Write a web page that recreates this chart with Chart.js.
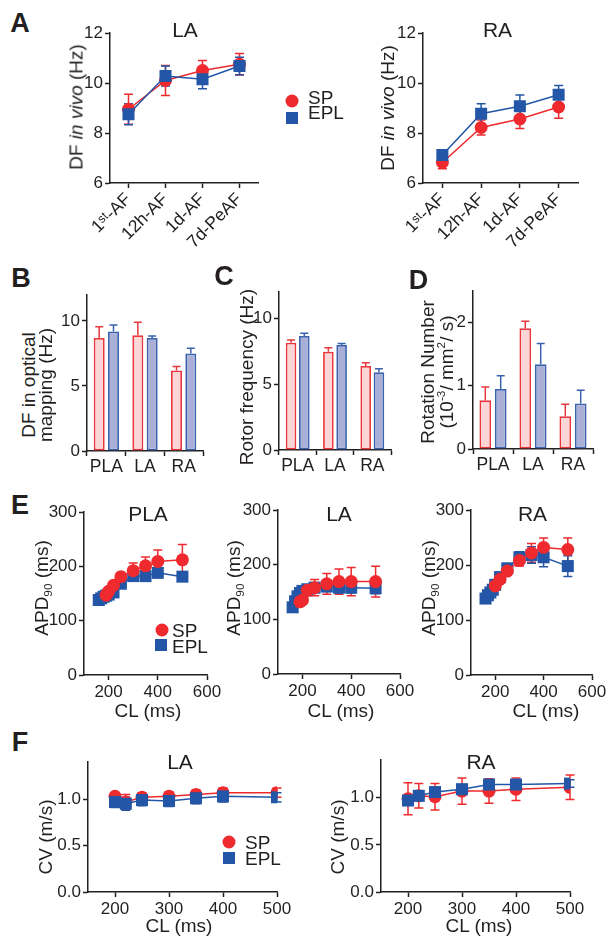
<!DOCTYPE html>
<html><head><meta charset="utf-8">
<script src="https://cdn.jsdelivr.net/npm/chart.js@4.4.0/dist/chart.umd.min.js"></script>
<style>
body{margin:0;width:613px;height:944px;position:relative;background:#fff;font-family:"Liberation Sans",Arial,sans-serif;color:#231f20;overflow:hidden}
canvas{position:absolute}
.t{position:absolute;white-space:nowrap;transform:translate(-50%,-50%);line-height:1}
.v{position:absolute;white-space:nowrap;transform:translate(-50%,-50%) rotate(-90deg);line-height:1;font-size:19px}
.ti{font-size:21px}
.xt{font-size:19px}
.lt{font-weight:bold;font-size:27px}
.lg{position:absolute;white-space:nowrap;transform:translate(0,-50%);line-height:1;font-size:19px}
.mc{position:absolute;width:13px;height:13px;border-radius:50%;background:#ee2a2e;transform:translate(-50%,-50%)}
.ms{position:absolute;width:12px;height:12px;background:#2356a6;transform:translate(-50%,-50%)}
sup{font-size:0.62em;vertical-align:super;line-height:0}
sub{font-size:0.62em;vertical-align:sub;line-height:0}
</style>
</head><body>
<script>
// ---------- DATA ----------
const stagesA = ['1\u02E2\u1D57-AF', '12h-AF', '1d-AF', '7d-PeAF'];
const dfLA_SP = [8.95, 10.1, 10.5, 10.75];
const dfLA_SP_err = [0.6, 0.6, 0.4, 0.43];
const dfLA_EPL = [8.75, 10.28, 10.15, 10.68];
const dfLA_EPL_err = [0.42, 0.4, 0.38, 0.35];
const dfRA_SP = [6.82, 8.22, 8.56, 9.04];
const dfRA_SP_err = [0.25, 0.3, 0.38, 0.45];
const dfRA_EPL = [7.12, 8.77, 9.07, 9.53];
const dfRA_EPL_err = [0.2, 0.4, 0.45, 0.37];

const regions = ['PLA', 'LA', 'RA'];
const dfOpt_SP = [8.7, 8.9, 6.2];
const dfOpt_SP_err = [0.85, 1.0, 0.3];
const dfOpt_EPL = [9.2, 8.7, 7.5];
const dfOpt_EPL_err = [0.5, 0.15, 0.4];
const rotor_SP = [8.15, 7.47, 6.38];
const rotor_SP_err = [0.2, 0.3, 0.25];
const rotor_EPL = [8.66, 7.97, 5.9];
const rotor_EPL_err = [0.2, 0.12, 0.28];
const rotN_SP = [0.77, 1.91, 0.52];
const rotN_SP_err = [0.21, 0.11, 0.19];
const rotN_EPL = [0.95, 1.34, 0.72];
const rotN_EPL_err = [0.21, 0.33, 0.21];

const apdPLA_SP_CL = [190, 200, 220, 250, 300, 350, 400, 500];
const apdPLA_SP = [147, 154, 165, 181, 192, 201, 209, 212];
const apdPLA_SP_err = [5, 5, 6, 6, 14, 16, 21, 28];
const apdPLA_EPL_CL = [160, 170, 180, 190, 200, 220, 250, 300, 350, 400, 500];
const apdPLA_EPL = [138, 141, 144, 146, 148, 152, 168, 182, 182, 188, 181];
const apdPLA_EPL_err = [4, 4, 4, 4, 4, 5, 5, 6, 6, 8, 5];

const apdLA_SP_CL = [190, 200, 220, 250, 300, 350, 400, 500];
const apdLA_SP = [132, 135, 153, 158, 165, 169, 169, 169];
const apdLA_SP_err = [5, 6, 10, 15, 19, 23, 26, 28];
const apdLA_EPL_CL = [160, 170, 180, 190, 200, 220, 250, 300, 350, 400, 500];
const apdLA_EPL = [122, 133, 142, 148, 152, 155, 158, 160, 158, 158, 157];
const apdLA_EPL_err = [5, 5, 5, 5, 6, 7, 8, 9, 10, 10, 10];

const apdRA_SP_CL = [200, 220, 250, 300, 350, 400, 500];
const apdRA_SP = [162, 174, 189, 208, 222, 232, 228];
const apdRA_SP_err = [5, 5, 6, 10, 17, 17, 21];
const apdRA_EPL_CL = [160, 170, 180, 190, 200, 220, 250, 300, 350, 400, 500];
const apdRA_EPL = [139, 145, 150, 155, 164, 178, 194, 214, 218, 214, 198];
const apdRA_EPL_err = [4, 4, 4, 4, 5, 6, 6, 10, 15, 17, 19];

const cvCL = [200, 220, 250, 300, 350, 400, 500];
const cvLA_SP = [1.03, 0.97, 1.02, 1.03, 1.05, 1.07, 1.07];
const cvLA_SP_err = [0.03, 0.08, 0.05, 0.05, 0.05, 0.05, 0.05];
const cvLA_EPL = [0.97, 0.95, 0.99, 0.98, 1.01, 1.03, 1.02];
const cvLA_EPL_err = [0.06, 0.07, 0.06, 0.06, 0.06, 0.06, 0.05];
const cvRA_SP = [0.99, 1.02, 1.01, 1.07, 1.07, 1.09, 1.11];
const cvRA_SP_err = [0.17, 0.13, 0.14, 0.14, 0.13, 0.12, 0.13];
const cvRA_EPL = [0.97, 1.02, 1.06, 1.09, 1.14, 1.14, 1.15];
const cvRA_EPL_err = [0.04, 0.04, 0.04, 0.05, 0.04, 0.05, 0.04];

const ticksA = [6, 8, 10, 12];
const ticksBC = [0, 5, 10];
const ticksD = [0, 1, 2];
const ticksAPD = [0, 100, 200, 300];
const ticksCLE = [200, 400, 600];
const ticksCV = [0, 0.5, 1.0];
const ticksCLF = [200, 300, 400, 500];

// ---------- STYLE ----------
const FONT = '"Liberation Sans", Arial, sans-serif';
const AX = '#231f20';
const RED = '#ee2a2e', BLUE = '#2356a6';
const RED_BAR = '#e8383d', RED_FILL = '#fcd6d6';
const BLUE_BAR = '#3a62ad', BLUE_FILL = '#a9afd7';
const TICK = 17;
Chart.defaults.font.family = FONT;
Chart.defaults.color = AX;

const errPlugin = {
  id: 'errbars',
  beforeDatasetsDraw(chart) {
    const ctx = chart.ctx, ys = chart.scales.y;
    chart.data.datasets.forEach((ds, i) => {
      if (!ds.err) return;
      const meta = chart.getDatasetMeta(i);
      meta.data.forEach((el, j) => {
        const e = ds.err[j]; if (e == null) return;
        const d = ds.data[j];
        const v = (typeof d === 'object') ? d.y : d;
        const x = el.x;
        const yT = ys.getPixelForValue(v + e);
        const yB = ys.getPixelForValue(ds.upOnly ? v : v - e);
        const cw = ds.capW || 4.5;
        ctx.save();
        ctx.strokeStyle = ds.errColor; ctx.lineWidth = 1.5;
        ctx.beginPath();
        ctx.moveTo(x, yT); ctx.lineTo(x, yB);
        ctx.moveTo(x - cw, yT); ctx.lineTo(x + cw, yT);
        if (!ds.upOnly) { ctx.moveTo(x - cw, yB); ctx.lineTo(x + cw, yB); }
        ctx.stroke();
        ctx.restore();
      });
    });
  }
};

function axis(extra) {
  return Object.assign({
    grid: { display: true, drawOnChartArea: false, drawTicks: true, tickLength: 5, tickWidth: 1.5, color: AX, tickColor: AX },
    border: { display: true, color: AX, width: 1.5 },
  }, extra);
}
function linAxis(min, max, tks, fmt, size) {
  return axis({
    type: 'linear', min, max,
    afterBuildTicks: s => { s.ticks = tks.map(v => ({ value: v })); },
    ticks: { color: AX, font: { size: size || TICK }, padding: 2, autoSkip: false, maxRotation: 0, minRotation: 0,
      callback: fmt || (v => String(v)) }
  });
}

function mk(area, type, labels, datasets, xOpts, yOpts, xH) {
  const yW = 48, padT = 12, padR = 16;
  const w = Math.round(area.r - area.l + yW + padR), h = Math.round(area.b - area.t + padT + xH);
  const cv = document.createElement('canvas');
  cv.width = w; cv.height = h;
  cv.style.left = (area.l - yW) + 'px'; cv.style.top = (area.t - padT) + 'px';
  cv.style.width = w + 'px'; cv.style.height = h + 'px';
  document.body.appendChild(cv);
  xOpts.afterFit = s => { s.height = xH; s.paddingLeft = 0; s.paddingRight = 0; };
  yOpts.afterFit = s => { s.width = yW; s.paddingTop = 0; s.paddingBottom = 0; };
  new Chart(cv, {
    type, data: { labels, datasets },
    options: {
      responsive: false, animation: false, devicePixelRatio: 1,
      layout: { padding: { top: padT, right: padR, left: 0, bottom: 0 } },
      plugins: { legend: { display: false }, tooltip: { enabled: false } },
      scales: { x: xOpts, y: yOpts }
    },
    plugins: [errPlugin]
  });
}

function lineDS(data, err, color, shape, order) {
  return {
    data, err, errColor: color, order,
    borderColor: color, backgroundColor: color, borderWidth: 1.5,
    pointStyle: shape, pointRadius: shape === 'rect' ? 8.5 : 6.5,
    pointBackgroundColor: color, pointBorderColor: color, pointBorderWidth: 0,
    tension: 0, fill: false
  };
}
function xy(xs, ys) { return xs.map((x, i) => ({ x, y: ys[i] })); }
function barDS(data, err, border, fill) {
  return { data, err, errColor: border, upOnly: true, capW: 4,
    borderColor: border, backgroundColor: fill, borderWidth: 1.8, borderSkipped: false };
}

// ---------- A ----------
const catAxisA = () => axis({ type: 'category', offset: true,
  ticks: { color: AX, font: { size: 17.5 }, maxRotation: 45, minRotation: 45, padding: 1, autoSkip: false } });
mk({ l: 110, t: 33, r: 258, b: 183 }, 'line', stagesA,
  [lineDS(dfLA_SP, dfLA_SP_err, RED, 'circle', 1), lineDS(dfLA_EPL, dfLA_EPL_err, BLUE, 'rect', 0)],
  catAxisA(), linAxis(6, 12, ticksA), 80);
mk({ l: 423, t: 33, r: 578, b: 183 }, 'line', stagesA,
  [lineDS(dfRA_SP, dfRA_SP_err, RED, 'circle', 1), lineDS(dfRA_EPL, dfRA_EPL_err, BLUE, 'rect', 0)],
  catAxisA(), linAxis(6, 12, ticksA), 80);

// ---------- B, C, D ----------
function catBar(cp, bp) {
  return axis({ type: 'category', offset: true, categoryPercentage: cp, barPercentage: bp,
    ticks: { color: AX, font: { size: 17.5 }, padding: 1, autoSkip: false, maxRotation: 0 } });
}
function barChart(area, sp, spE, epl, eplE, max, tks, cp, bp) {
  const x = catBar(cp, bp);
  const dsA = barDS(sp, spE, RED_BAR, RED_FILL); dsA.categoryPercentage = cp; dsA.barPercentage = bp;
  const dsB = barDS(epl, eplE, BLUE_BAR, BLUE_FILL); dsB.categoryPercentage = cp; dsB.barPercentage = bp;
  mk(area, 'bar', regions, [dsA, dsB], x, linAxis(0, max, tks), 30);
}
barChart({ l: 87, t: 294.6, r: 203, b: 451 }, dfOpt_SP, dfOpt_SP_err, dfOpt_EPL, dfOpt_EPL_err, 12, ticksBC, 0.74, 0.77);
barChart({ l: 279, t: 291.6, r: 391, b: 450 }, rotor_SP, rotor_SP_err, rotor_EPL, rotor_EPL_err, 12, ticksBC, 0.71, 0.8);
barChart({ l: 473, t: 291.3, r: 593, b: 449.3 }, rotN_SP, rotN_SP_err, rotN_EPL, rotN_EPL_err, 2.5, ticksD, 0.77, 0.76);

// ---------- E ----------
function eChart(area, spCL, sp, spE, eCL, e, eE) {
  mk(area, 'line', undefined,
    [lineDS(xy(spCL, sp), spE, RED, 'circle', 0), lineDS(xy(eCL, e), eE, BLUE, 'rect', 1)],
    linAxis(100, 600, ticksCLE), linAxis(0, 300, ticksAPD), 30);
}
eChart({ l: 84, t: 512, r: 207, b: 675 }, apdPLA_SP_CL, apdPLA_SP, apdPLA_SP_err, apdPLA_EPL_CL, apdPLA_EPL, apdPLA_EPL_err);
eChart({ l: 278, t: 510, r: 400, b: 674 }, apdLA_SP_CL, apdLA_SP, apdLA_SP_err, apdLA_EPL_CL, apdLA_EPL, apdLA_EPL_err);
eChart({ l: 471, t: 510, r: 592, b: 675 }, apdRA_SP_CL, apdRA_SP, apdRA_SP_err, apdRA_EPL_CL, apdRA_EPL, apdRA_EPL_err);

// ---------- F ----------
function fChart(area, sp, spE, e, eE) {
  mk(area, 'line', undefined,
    [lineDS(xy(cvCL, sp), spE, RED, 'circle', 1), lineDS(xy(cvCL, e), eE, BLUE, 'rect', 0)],
    linAxis(150, 500, ticksCLF), linAxis(0, 1.4, ticksCV, v => v.toFixed(1)), 30);
}
fChart({ l: 88, t: 762, r: 277, b: 891.7 }, cvLA_SP, cvLA_SP_err, cvLA_EPL, cvLA_EPL_err);
fChart({ l: 381, t: 760, r: 570, b: 891.7 }, cvRA_SP, cvRA_SP_err, cvRA_EPL, cvRA_EPL_err);

// ---------- TEXT ----------
function txt(cls, x, y, html) {
  const d = document.createElement('div'); d.className = cls;
  d.style.left = x + 'px'; d.style.top = y + 'px'; d.innerHTML = html;
  document.body.appendChild(d);
}
// panel letters
txt('t lt', 20, 22.5, 'A'); txt('t lt', 21, 277.5, 'B'); txt('t lt', 224, 276, 'C');
txt('t lt', 418.5, 280, 'D'); txt('t lt', 20, 505, 'E'); txt('t lt', 20, 741.5, 'F');
// titles
txt('t ti', 185, 29, 'LA'); txt('t ti', 497.5, 29, 'RA');
txt('t ti', 148, 513, 'PLA'); txt('t ti', 339, 513, 'LA'); txt('t ti', 532.5, 513, 'RA');
txt('t ti', 180, 761, 'LA'); txt('t ti', 481, 761, 'RA');
// y titles
txt('v', 76, 107, 'DF <i>in vivo</i> (Hz)');
txt('v', 387, 107.5, 'DF <i>in vivo</i> (Hz)');
txt('v', 27.5, 385, 'DF in optical');
txt('v', 45, 385, 'mapping (Hz)');
txt('v', 246, 376.7, 'Rotor frequency (Hz)');
txt('v', 427, 372, 'Rotation Number');
txt('v', 446, 372, '(10<sup>-3</sup>/ mm<sup>2</sup>/ s)');
txt('v', 41, 588, 'APD<sub>90</sub> (ms)');
txt('v', 233, 588, 'APD<sub>90</sub> (ms)');
txt('v', 428, 588, 'APD<sub>90</sub> (ms)');
txt('v', 45, 836.7, 'CV (m/s)');
txt('v', 337, 836.7, 'CV (m/s)');
// x titles
txt('t xt', 148, 710, 'CL (ms)'); txt('t xt', 341, 710, 'CL (ms)'); txt('t xt', 546, 710, 'CL (ms)');
txt('t xt', 179, 925, 'CL (ms)'); txt('t xt', 479, 925, 'CL (ms)');
// legends
txt('mc', 292, 101, ''); txt('ms', 292, 117.5, '');
txt('lg', 308, 97, 'SP'); txt('lg', 308, 112, 'EPL');
txt('mc', 161.7, 630, ''); txt('ms', 160.8, 645.2, '');
txt('lg', 172, 630, 'SP'); txt('lg', 172, 645.5, 'EPL');
txt('mc', 229, 842, ''); txt('ms', 229, 857.5, '');
txt('lg', 245, 842, 'SP'); txt('lg', 245, 858, 'EPL');
</script>
</body></html>
